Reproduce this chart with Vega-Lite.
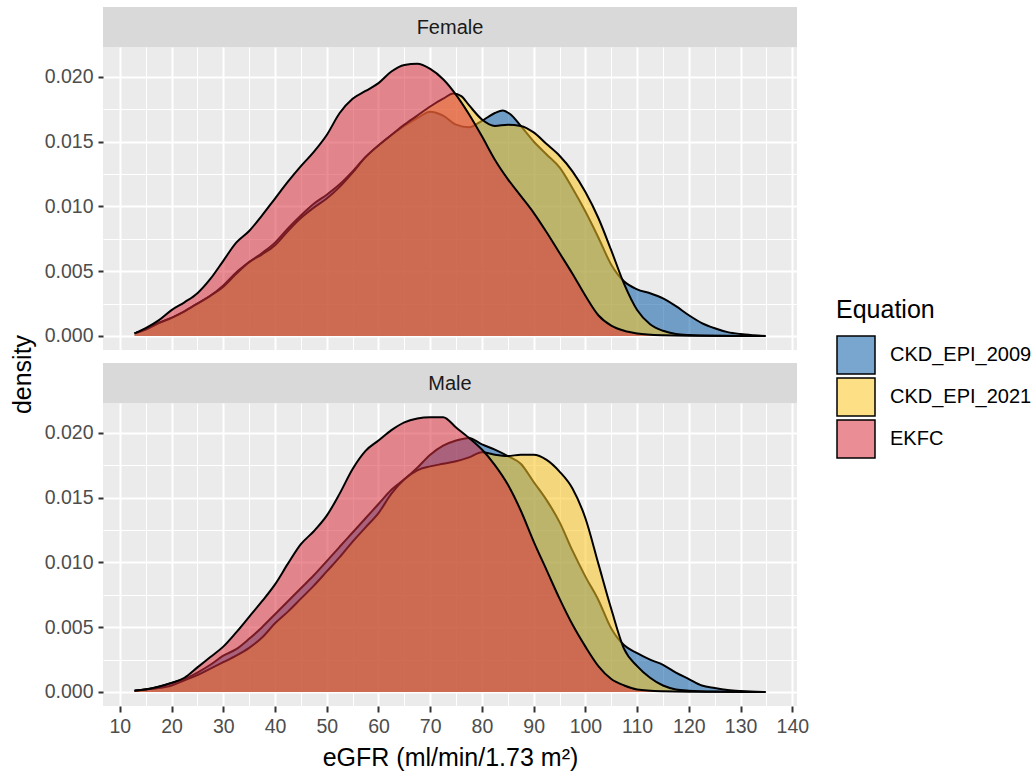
{
  "$schema": "https://vega.github.io/schema/vega-lite/v6.json",
  "padding": {"left": 10, "top": 7, "right": 5, "bottom": 5},
  "background": "white",
  "config": {
    "font": "Liberation Sans",
    "legend": {
      "orient": "none", "legendX": 733, "legendY": 291,
      "titleFontSize": 25, "titleFontWeight": "normal", "titleColor": "black", "titlePadding": 12,
      "labelFontSize": 20, "labelColor": "black", "labelOffset": 14,
      "symbolType": "square", "symbolSize": 1444, "symbolStrokeColor": "black", "symbolStrokeWidth": 1.5,
      "rowPadding": -8
    }
  },
  "datasets": {
    "dens": [
      {"Sex":"Female","Equation":"EKFC","eGFR":12.85,"density":0.0002},
      {"Sex":"Female","Equation":"EKFC","eGFR":15,"density":0.0006},
      {"Sex":"Female","Equation":"EKFC","eGFR":17.5,"density":0.0012},
      {"Sex":"Female","Equation":"EKFC","eGFR":20,"density":0.0020},
      {"Sex":"Female","Equation":"EKFC","eGFR":22.5,"density":0.0026},
      {"Sex":"Female","Equation":"EKFC","eGFR":25,"density":0.0033},
      {"Sex":"Female","Equation":"EKFC","eGFR":27.5,"density":0.0044},
      {"Sex":"Female","Equation":"EKFC","eGFR":30,"density":0.0058},
      {"Sex":"Female","Equation":"EKFC","eGFR":32.5,"density":0.0072},
      {"Sex":"Female","Equation":"EKFC","eGFR":35,"density":0.0081},
      {"Sex":"Female","Equation":"EKFC","eGFR":37.5,"density":0.0093},
      {"Sex":"Female","Equation":"EKFC","eGFR":40,"density":0.0106},
      {"Sex":"Female","Equation":"EKFC","eGFR":42.5,"density":0.0119},
      {"Sex":"Female","Equation":"EKFC","eGFR":45,"density":0.0131},
      {"Sex":"Female","Equation":"EKFC","eGFR":47.5,"density":0.0142},
      {"Sex":"Female","Equation":"EKFC","eGFR":50,"density":0.0155},
      {"Sex":"Female","Equation":"EKFC","eGFR":52.5,"density":0.0172},
      {"Sex":"Female","Equation":"EKFC","eGFR":55,"density":0.0183},
      {"Sex":"Female","Equation":"EKFC","eGFR":57.5,"density":0.0189},
      {"Sex":"Female","Equation":"EKFC","eGFR":60,"density":0.0195},
      {"Sex":"Female","Equation":"EKFC","eGFR":62.5,"density":0.0204},
      {"Sex":"Female","Equation":"EKFC","eGFR":65,"density":0.0209},
      {"Sex":"Female","Equation":"EKFC","eGFR":67.5,"density":0.0210},
      {"Sex":"Female","Equation":"EKFC","eGFR":70,"density":0.0206},
      {"Sex":"Female","Equation":"EKFC","eGFR":72.5,"density":0.0198},
      {"Sex":"Female","Equation":"EKFC","eGFR":75,"density":0.0186},
      {"Sex":"Female","Equation":"EKFC","eGFR":77.5,"density":0.0171},
      {"Sex":"Female","Equation":"EKFC","eGFR":80,"density":0.0154},
      {"Sex":"Female","Equation":"EKFC","eGFR":82.5,"density":0.0136},
      {"Sex":"Female","Equation":"EKFC","eGFR":85,"density":0.0121},
      {"Sex":"Female","Equation":"EKFC","eGFR":87.5,"density":0.0108},
      {"Sex":"Female","Equation":"EKFC","eGFR":90,"density":0.0095},
      {"Sex":"Female","Equation":"EKFC","eGFR":92.5,"density":0.0080},
      {"Sex":"Female","Equation":"EKFC","eGFR":95,"density":0.0064},
      {"Sex":"Female","Equation":"EKFC","eGFR":97.5,"density":0.0048},
      {"Sex":"Female","Equation":"EKFC","eGFR":100,"density":0.0031},
      {"Sex":"Female","Equation":"EKFC","eGFR":102.5,"density":0.0016},
      {"Sex":"Female","Equation":"EKFC","eGFR":105,"density":0.0008},
      {"Sex":"Female","Equation":"EKFC","eGFR":107.5,"density":0.0004},
      {"Sex":"Female","Equation":"EKFC","eGFR":110,"density":0.0002},
      {"Sex":"Female","Equation":"EKFC","eGFR":115,"density":0.00005},
      {"Sex":"Female","Equation":"EKFC","eGFR":120,"density":0.00001},
      {"Sex":"Female","Equation":"EKFC","eGFR":134.8,"density":0},

      {"Sex":"Female","Equation":"CKD_EPI_2021","eGFR":12.85,"density":0.0002},
      {"Sex":"Female","Equation":"CKD_EPI_2021","eGFR":15,"density":0.0005},
      {"Sex":"Female","Equation":"CKD_EPI_2021","eGFR":17.5,"density":0.0010},
      {"Sex":"Female","Equation":"CKD_EPI_2021","eGFR":20,"density":0.0014},
      {"Sex":"Female","Equation":"CKD_EPI_2021","eGFR":22.5,"density":0.0019},
      {"Sex":"Female","Equation":"CKD_EPI_2021","eGFR":25,"density":0.0025},
      {"Sex":"Female","Equation":"CKD_EPI_2021","eGFR":27.5,"density":0.0031},
      {"Sex":"Female","Equation":"CKD_EPI_2021","eGFR":30,"density":0.0038},
      {"Sex":"Female","Equation":"CKD_EPI_2021","eGFR":32.5,"density":0.0048},
      {"Sex":"Female","Equation":"CKD_EPI_2021","eGFR":35,"density":0.0057},
      {"Sex":"Female","Equation":"CKD_EPI_2021","eGFR":37.5,"density":0.0063},
      {"Sex":"Female","Equation":"CKD_EPI_2021","eGFR":40,"density":0.0070},
      {"Sex":"Female","Equation":"CKD_EPI_2021","eGFR":42.5,"density":0.0081},
      {"Sex":"Female","Equation":"CKD_EPI_2021","eGFR":45,"density":0.0091},
      {"Sex":"Female","Equation":"CKD_EPI_2021","eGFR":47.5,"density":0.0099},
      {"Sex":"Female","Equation":"CKD_EPI_2021","eGFR":50,"density":0.0106},
      {"Sex":"Female","Equation":"CKD_EPI_2021","eGFR":52.5,"density":0.0115},
      {"Sex":"Female","Equation":"CKD_EPI_2021","eGFR":55,"density":0.0126},
      {"Sex":"Female","Equation":"CKD_EPI_2021","eGFR":57.5,"density":0.0138},
      {"Sex":"Female","Equation":"CKD_EPI_2021","eGFR":60,"density":0.0147},
      {"Sex":"Female","Equation":"CKD_EPI_2021","eGFR":62.5,"density":0.0155},
      {"Sex":"Female","Equation":"CKD_EPI_2021","eGFR":65,"density":0.0163},
      {"Sex":"Female","Equation":"CKD_EPI_2021","eGFR":67.5,"density":0.0170},
      {"Sex":"Female","Equation":"CKD_EPI_2021","eGFR":70,"density":0.0177},
      {"Sex":"Female","Equation":"CKD_EPI_2021","eGFR":72.5,"density":0.0183},
      {"Sex":"Female","Equation":"CKD_EPI_2021","eGFR":74.5,"density":0.0187},
      {"Sex":"Female","Equation":"CKD_EPI_2021","eGFR":76,"density":0.0185},
      {"Sex":"Female","Equation":"CKD_EPI_2021","eGFR":77.5,"density":0.0178},
      {"Sex":"Female","Equation":"CKD_EPI_2021","eGFR":80,"density":0.0167},
      {"Sex":"Female","Equation":"CKD_EPI_2021","eGFR":82.5,"density":0.0162},
      {"Sex":"Female","Equation":"CKD_EPI_2021","eGFR":85,"density":0.0163},
      {"Sex":"Female","Equation":"CKD_EPI_2021","eGFR":87.5,"density":0.0162},
      {"Sex":"Female","Equation":"CKD_EPI_2021","eGFR":90,"density":0.0157},
      {"Sex":"Female","Equation":"CKD_EPI_2021","eGFR":92.5,"density":0.0148},
      {"Sex":"Female","Equation":"CKD_EPI_2021","eGFR":95,"density":0.0139},
      {"Sex":"Female","Equation":"CKD_EPI_2021","eGFR":97.5,"density":0.0127},
      {"Sex":"Female","Equation":"CKD_EPI_2021","eGFR":100,"density":0.0111},
      {"Sex":"Female","Equation":"CKD_EPI_2021","eGFR":102.5,"density":0.0091},
      {"Sex":"Female","Equation":"CKD_EPI_2021","eGFR":105,"density":0.0066},
      {"Sex":"Female","Equation":"CKD_EPI_2021","eGFR":107.5,"density":0.0040},
      {"Sex":"Female","Equation":"CKD_EPI_2021","eGFR":110,"density":0.0020},
      {"Sex":"Female","Equation":"CKD_EPI_2021","eGFR":112.5,"density":0.0009},
      {"Sex":"Female","Equation":"CKD_EPI_2021","eGFR":115,"density":0.0004},
      {"Sex":"Female","Equation":"CKD_EPI_2021","eGFR":117.5,"density":0.00015},
      {"Sex":"Female","Equation":"CKD_EPI_2021","eGFR":120,"density":0.00007},
      {"Sex":"Female","Equation":"CKD_EPI_2021","eGFR":125,"density":0.00002},
      {"Sex":"Female","Equation":"CKD_EPI_2021","eGFR":134.8,"density":0},

      {"Sex":"Female","Equation":"CKD_EPI_2009","eGFR":12.85,"density":0.0002},
      {"Sex":"Female","Equation":"CKD_EPI_2009","eGFR":15,"density":0.0005},
      {"Sex":"Female","Equation":"CKD_EPI_2009","eGFR":17.5,"density":0.0010},
      {"Sex":"Female","Equation":"CKD_EPI_2009","eGFR":20,"density":0.0014},
      {"Sex":"Female","Equation":"CKD_EPI_2009","eGFR":22.5,"density":0.0019},
      {"Sex":"Female","Equation":"CKD_EPI_2009","eGFR":25,"density":0.0025},
      {"Sex":"Female","Equation":"CKD_EPI_2009","eGFR":27.5,"density":0.0031},
      {"Sex":"Female","Equation":"CKD_EPI_2009","eGFR":30,"density":0.0039},
      {"Sex":"Female","Equation":"CKD_EPI_2009","eGFR":32.5,"density":0.0049},
      {"Sex":"Female","Equation":"CKD_EPI_2009","eGFR":35,"density":0.0057},
      {"Sex":"Female","Equation":"CKD_EPI_2009","eGFR":37.5,"density":0.0064},
      {"Sex":"Female","Equation":"CKD_EPI_2009","eGFR":40,"density":0.0072},
      {"Sex":"Female","Equation":"CKD_EPI_2009","eGFR":42.5,"density":0.0083},
      {"Sex":"Female","Equation":"CKD_EPI_2009","eGFR":45,"density":0.0093},
      {"Sex":"Female","Equation":"CKD_EPI_2009","eGFR":47.5,"density":0.0102},
      {"Sex":"Female","Equation":"CKD_EPI_2009","eGFR":50,"density":0.0109},
      {"Sex":"Female","Equation":"CKD_EPI_2009","eGFR":52.5,"density":0.0117},
      {"Sex":"Female","Equation":"CKD_EPI_2009","eGFR":55,"density":0.0127},
      {"Sex":"Female","Equation":"CKD_EPI_2009","eGFR":57.5,"density":0.0138},
      {"Sex":"Female","Equation":"CKD_EPI_2009","eGFR":60,"density":0.0147},
      {"Sex":"Female","Equation":"CKD_EPI_2009","eGFR":62.5,"density":0.0155},
      {"Sex":"Female","Equation":"CKD_EPI_2009","eGFR":65,"density":0.0162},
      {"Sex":"Female","Equation":"CKD_EPI_2009","eGFR":67.5,"density":0.0168},
      {"Sex":"Female","Equation":"CKD_EPI_2009","eGFR":70,"density":0.0173},
      {"Sex":"Female","Equation":"CKD_EPI_2009","eGFR":72.5,"density":0.0170},
      {"Sex":"Female","Equation":"CKD_EPI_2009","eGFR":75,"density":0.0163},
      {"Sex":"Female","Equation":"CKD_EPI_2009","eGFR":77.5,"density":0.0161},
      {"Sex":"Female","Equation":"CKD_EPI_2009","eGFR":80,"density":0.0166},
      {"Sex":"Female","Equation":"CKD_EPI_2009","eGFR":82.5,"density":0.0172},
      {"Sex":"Female","Equation":"CKD_EPI_2009","eGFR":84,"density":0.0174},
      {"Sex":"Female","Equation":"CKD_EPI_2009","eGFR":85.5,"density":0.0171},
      {"Sex":"Female","Equation":"CKD_EPI_2009","eGFR":87.5,"density":0.0162},
      {"Sex":"Female","Equation":"CKD_EPI_2009","eGFR":90,"density":0.0150},
      {"Sex":"Female","Equation":"CKD_EPI_2009","eGFR":92.5,"density":0.0140},
      {"Sex":"Female","Equation":"CKD_EPI_2009","eGFR":95,"density":0.0130},
      {"Sex":"Female","Equation":"CKD_EPI_2009","eGFR":97.5,"density":0.0114},
      {"Sex":"Female","Equation":"CKD_EPI_2009","eGFR":100,"density":0.0096},
      {"Sex":"Female","Equation":"CKD_EPI_2009","eGFR":102.5,"density":0.0076},
      {"Sex":"Female","Equation":"CKD_EPI_2009","eGFR":105,"density":0.0055},
      {"Sex":"Female","Equation":"CKD_EPI_2009","eGFR":107.5,"density":0.0042},
      {"Sex":"Female","Equation":"CKD_EPI_2009","eGFR":110,"density":0.0036},
      {"Sex":"Female","Equation":"CKD_EPI_2009","eGFR":112.5,"density":0.0033},
      {"Sex":"Female","Equation":"CKD_EPI_2009","eGFR":115,"density":0.0029},
      {"Sex":"Female","Equation":"CKD_EPI_2009","eGFR":117.5,"density":0.0023},
      {"Sex":"Female","Equation":"CKD_EPI_2009","eGFR":120,"density":0.0016},
      {"Sex":"Female","Equation":"CKD_EPI_2009","eGFR":122.5,"density":0.0010},
      {"Sex":"Female","Equation":"CKD_EPI_2009","eGFR":125,"density":0.0006},
      {"Sex":"Female","Equation":"CKD_EPI_2009","eGFR":127.5,"density":0.0003},
      {"Sex":"Female","Equation":"CKD_EPI_2009","eGFR":130,"density":0.00015},
      {"Sex":"Female","Equation":"CKD_EPI_2009","eGFR":132.5,"density":0.00006},
      {"Sex":"Female","Equation":"CKD_EPI_2009","eGFR":134.8,"density":0},

      {"Sex":"Male","Equation":"EKFC","eGFR":12.85,"density":0.0001},
      {"Sex":"Male","Equation":"EKFC","eGFR":15,"density":0.0002},
      {"Sex":"Male","Equation":"EKFC","eGFR":17.5,"density":0.0004},
      {"Sex":"Male","Equation":"EKFC","eGFR":20,"density":0.0007},
      {"Sex":"Male","Equation":"EKFC","eGFR":22.5,"density":0.0011},
      {"Sex":"Male","Equation":"EKFC","eGFR":25,"density":0.0019},
      {"Sex":"Male","Equation":"EKFC","eGFR":27.5,"density":0.0027},
      {"Sex":"Male","Equation":"EKFC","eGFR":30,"density":0.0035},
      {"Sex":"Male","Equation":"EKFC","eGFR":32.5,"density":0.0046},
      {"Sex":"Male","Equation":"EKFC","eGFR":35,"density":0.0058},
      {"Sex":"Male","Equation":"EKFC","eGFR":37.5,"density":0.0070},
      {"Sex":"Male","Equation":"EKFC","eGFR":40,"density":0.0083},
      {"Sex":"Male","Equation":"EKFC","eGFR":42.5,"density":0.0099},
      {"Sex":"Male","Equation":"EKFC","eGFR":45,"density":0.0114},
      {"Sex":"Male","Equation":"EKFC","eGFR":47.5,"density":0.0124},
      {"Sex":"Male","Equation":"EKFC","eGFR":50,"density":0.0136},
      {"Sex":"Male","Equation":"EKFC","eGFR":52.5,"density":0.0153},
      {"Sex":"Male","Equation":"EKFC","eGFR":55,"density":0.0172},
      {"Sex":"Male","Equation":"EKFC","eGFR":57.5,"density":0.0186},
      {"Sex":"Male","Equation":"EKFC","eGFR":60,"density":0.0194},
      {"Sex":"Male","Equation":"EKFC","eGFR":62.5,"density":0.0202},
      {"Sex":"Male","Equation":"EKFC","eGFR":65,"density":0.0208},
      {"Sex":"Male","Equation":"EKFC","eGFR":67.5,"density":0.0211},
      {"Sex":"Male","Equation":"EKFC","eGFR":70,"density":0.0212},
      {"Sex":"Male","Equation":"EKFC","eGFR":72.5,"density":0.0212},
      {"Sex":"Male","Equation":"EKFC","eGFR":75,"density":0.0204},
      {"Sex":"Male","Equation":"EKFC","eGFR":77.5,"density":0.0196},
      {"Sex":"Male","Equation":"EKFC","eGFR":80,"density":0.0187},
      {"Sex":"Male","Equation":"EKFC","eGFR":82.5,"density":0.0175},
      {"Sex":"Male","Equation":"EKFC","eGFR":85,"density":0.0160},
      {"Sex":"Male","Equation":"EKFC","eGFR":87.5,"density":0.0140},
      {"Sex":"Male","Equation":"EKFC","eGFR":90,"density":0.0116},
      {"Sex":"Male","Equation":"EKFC","eGFR":92.5,"density":0.0094},
      {"Sex":"Male","Equation":"EKFC","eGFR":95,"density":0.0072},
      {"Sex":"Male","Equation":"EKFC","eGFR":97.5,"density":0.0052},
      {"Sex":"Male","Equation":"EKFC","eGFR":100,"density":0.0035},
      {"Sex":"Male","Equation":"EKFC","eGFR":102.5,"density":0.0020},
      {"Sex":"Male","Equation":"EKFC","eGFR":105,"density":0.0010},
      {"Sex":"Male","Equation":"EKFC","eGFR":107.5,"density":0.0005},
      {"Sex":"Male","Equation":"EKFC","eGFR":110,"density":0.0002},
      {"Sex":"Male","Equation":"EKFC","eGFR":115,"density":0.00005},
      {"Sex":"Male","Equation":"EKFC","eGFR":120,"density":0.00001},
      {"Sex":"Male","Equation":"EKFC","eGFR":134.8,"density":0},

      {"Sex":"Male","Equation":"CKD_EPI_2021","eGFR":12.85,"density":0.0001},
      {"Sex":"Male","Equation":"CKD_EPI_2021","eGFR":15,"density":0.0002},
      {"Sex":"Male","Equation":"CKD_EPI_2021","eGFR":17.5,"density":0.0003},
      {"Sex":"Male","Equation":"CKD_EPI_2021","eGFR":20,"density":0.0005},
      {"Sex":"Male","Equation":"CKD_EPI_2021","eGFR":22.5,"density":0.0009},
      {"Sex":"Male","Equation":"CKD_EPI_2021","eGFR":25,"density":0.0013},
      {"Sex":"Male","Equation":"CKD_EPI_2021","eGFR":27.5,"density":0.0018},
      {"Sex":"Male","Equation":"CKD_EPI_2021","eGFR":30,"density":0.0023},
      {"Sex":"Male","Equation":"CKD_EPI_2021","eGFR":32.5,"density":0.0028},
      {"Sex":"Male","Equation":"CKD_EPI_2021","eGFR":35,"density":0.0034},
      {"Sex":"Male","Equation":"CKD_EPI_2021","eGFR":37.5,"density":0.0042},
      {"Sex":"Male","Equation":"CKD_EPI_2021","eGFR":40,"density":0.0053},
      {"Sex":"Male","Equation":"CKD_EPI_2021","eGFR":42.5,"density":0.0062},
      {"Sex":"Male","Equation":"CKD_EPI_2021","eGFR":45,"density":0.0072},
      {"Sex":"Male","Equation":"CKD_EPI_2021","eGFR":47.5,"density":0.0082},
      {"Sex":"Male","Equation":"CKD_EPI_2021","eGFR":50,"density":0.0093},
      {"Sex":"Male","Equation":"CKD_EPI_2021","eGFR":52.5,"density":0.0104},
      {"Sex":"Male","Equation":"CKD_EPI_2021","eGFR":55,"density":0.0116},
      {"Sex":"Male","Equation":"CKD_EPI_2021","eGFR":57.5,"density":0.0127},
      {"Sex":"Male","Equation":"CKD_EPI_2021","eGFR":60,"density":0.0138},
      {"Sex":"Male","Equation":"CKD_EPI_2021","eGFR":62.5,"density":0.0153},
      {"Sex":"Male","Equation":"CKD_EPI_2021","eGFR":65,"density":0.0164},
      {"Sex":"Male","Equation":"CKD_EPI_2021","eGFR":67.5,"density":0.0171},
      {"Sex":"Male","Equation":"CKD_EPI_2021","eGFR":70,"density":0.0174},
      {"Sex":"Male","Equation":"CKD_EPI_2021","eGFR":72.5,"density":0.0176},
      {"Sex":"Male","Equation":"CKD_EPI_2021","eGFR":75,"density":0.0178},
      {"Sex":"Male","Equation":"CKD_EPI_2021","eGFR":77.5,"density":0.0181},
      {"Sex":"Male","Equation":"CKD_EPI_2021","eGFR":80,"density":0.0185},
      {"Sex":"Male","Equation":"CKD_EPI_2021","eGFR":82.5,"density":0.0183},
      {"Sex":"Male","Equation":"CKD_EPI_2021","eGFR":85,"density":0.0182},
      {"Sex":"Male","Equation":"CKD_EPI_2021","eGFR":87.5,"density":0.0183},
      {"Sex":"Male","Equation":"CKD_EPI_2021","eGFR":90,"density":0.0183},
      {"Sex":"Male","Equation":"CKD_EPI_2021","eGFR":92.5,"density":0.0179},
      {"Sex":"Male","Equation":"CKD_EPI_2021","eGFR":95,"density":0.0170},
      {"Sex":"Male","Equation":"CKD_EPI_2021","eGFR":97.5,"density":0.0157},
      {"Sex":"Male","Equation":"CKD_EPI_2021","eGFR":100,"density":0.0134},
      {"Sex":"Male","Equation":"CKD_EPI_2021","eGFR":102.5,"density":0.0099},
      {"Sex":"Male","Equation":"CKD_EPI_2021","eGFR":105,"density":0.0064},
      {"Sex":"Male","Equation":"CKD_EPI_2021","eGFR":107.5,"density":0.0033},
      {"Sex":"Male","Equation":"CKD_EPI_2021","eGFR":110,"density":0.0020},
      {"Sex":"Male","Equation":"CKD_EPI_2021","eGFR":112.5,"density":0.0011},
      {"Sex":"Male","Equation":"CKD_EPI_2021","eGFR":115,"density":0.0005},
      {"Sex":"Male","Equation":"CKD_EPI_2021","eGFR":117.5,"density":0.0002},
      {"Sex":"Male","Equation":"CKD_EPI_2021","eGFR":120,"density":0.0001},
      {"Sex":"Male","Equation":"CKD_EPI_2021","eGFR":125,"density":0.00003},
      {"Sex":"Male","Equation":"CKD_EPI_2021","eGFR":134.8,"density":0},

      {"Sex":"Male","Equation":"CKD_EPI_2009","eGFR":12.85,"density":0.0001},
      {"Sex":"Male","Equation":"CKD_EPI_2009","eGFR":15,"density":0.0002},
      {"Sex":"Male","Equation":"CKD_EPI_2009","eGFR":17.5,"density":0.0004},
      {"Sex":"Male","Equation":"CKD_EPI_2009","eGFR":20,"density":0.0007},
      {"Sex":"Male","Equation":"CKD_EPI_2009","eGFR":22.5,"density":0.0010},
      {"Sex":"Male","Equation":"CKD_EPI_2009","eGFR":25,"density":0.0015},
      {"Sex":"Male","Equation":"CKD_EPI_2009","eGFR":27.5,"density":0.0021},
      {"Sex":"Male","Equation":"CKD_EPI_2009","eGFR":30,"density":0.0028},
      {"Sex":"Male","Equation":"CKD_EPI_2009","eGFR":32.5,"density":0.0033},
      {"Sex":"Male","Equation":"CKD_EPI_2009","eGFR":35,"density":0.0041},
      {"Sex":"Male","Equation":"CKD_EPI_2009","eGFR":37.5,"density":0.0050},
      {"Sex":"Male","Equation":"CKD_EPI_2009","eGFR":40,"density":0.0060},
      {"Sex":"Male","Equation":"CKD_EPI_2009","eGFR":42.5,"density":0.0070},
      {"Sex":"Male","Equation":"CKD_EPI_2009","eGFR":45,"density":0.0080},
      {"Sex":"Male","Equation":"CKD_EPI_2009","eGFR":47.5,"density":0.0090},
      {"Sex":"Male","Equation":"CKD_EPI_2009","eGFR":50,"density":0.0101},
      {"Sex":"Male","Equation":"CKD_EPI_2009","eGFR":52.5,"density":0.0112},
      {"Sex":"Male","Equation":"CKD_EPI_2009","eGFR":55,"density":0.0123},
      {"Sex":"Male","Equation":"CKD_EPI_2009","eGFR":57.5,"density":0.0134},
      {"Sex":"Male","Equation":"CKD_EPI_2009","eGFR":60,"density":0.0145},
      {"Sex":"Male","Equation":"CKD_EPI_2009","eGFR":62.5,"density":0.0156},
      {"Sex":"Male","Equation":"CKD_EPI_2009","eGFR":65,"density":0.0164},
      {"Sex":"Male","Equation":"CKD_EPI_2009","eGFR":67.5,"density":0.0173},
      {"Sex":"Male","Equation":"CKD_EPI_2009","eGFR":70,"density":0.0183},
      {"Sex":"Male","Equation":"CKD_EPI_2009","eGFR":72.5,"density":0.0190},
      {"Sex":"Male","Equation":"CKD_EPI_2009","eGFR":75,"density":0.0194},
      {"Sex":"Male","Equation":"CKD_EPI_2009","eGFR":77.5,"density":0.0196},
      {"Sex":"Male","Equation":"CKD_EPI_2009","eGFR":80,"density":0.0191},
      {"Sex":"Male","Equation":"CKD_EPI_2009","eGFR":82.5,"density":0.0187},
      {"Sex":"Male","Equation":"CKD_EPI_2009","eGFR":85,"density":0.0182},
      {"Sex":"Male","Equation":"CKD_EPI_2009","eGFR":87.5,"density":0.0176},
      {"Sex":"Male","Equation":"CKD_EPI_2009","eGFR":90,"density":0.0162},
      {"Sex":"Male","Equation":"CKD_EPI_2009","eGFR":92.5,"density":0.0148},
      {"Sex":"Male","Equation":"CKD_EPI_2009","eGFR":95,"density":0.0131},
      {"Sex":"Male","Equation":"CKD_EPI_2009","eGFR":97.5,"density":0.0109},
      {"Sex":"Male","Equation":"CKD_EPI_2009","eGFR":100,"density":0.0089},
      {"Sex":"Male","Equation":"CKD_EPI_2009","eGFR":102.5,"density":0.0071},
      {"Sex":"Male","Equation":"CKD_EPI_2009","eGFR":105,"density":0.0049},
      {"Sex":"Male","Equation":"CKD_EPI_2009","eGFR":107.5,"density":0.0036},
      {"Sex":"Male","Equation":"CKD_EPI_2009","eGFR":110,"density":0.0030},
      {"Sex":"Male","Equation":"CKD_EPI_2009","eGFR":112.5,"density":0.0025},
      {"Sex":"Male","Equation":"CKD_EPI_2009","eGFR":115,"density":0.0021},
      {"Sex":"Male","Equation":"CKD_EPI_2009","eGFR":117.5,"density":0.0015},
      {"Sex":"Male","Equation":"CKD_EPI_2009","eGFR":120,"density":0.0010},
      {"Sex":"Male","Equation":"CKD_EPI_2009","eGFR":122.5,"density":0.0005},
      {"Sex":"Male","Equation":"CKD_EPI_2009","eGFR":125,"density":0.0003},
      {"Sex":"Male","Equation":"CKD_EPI_2009","eGFR":127.5,"density":0.00015},
      {"Sex":"Male","Equation":"CKD_EPI_2009","eGFR":130,"density":0.00007},
      {"Sex":"Male","Equation":"CKD_EPI_2009","eGFR":134.8,"density":0}
    ]
  },
  "spacing": 0,
  "bounds": "flush",
  "vconcat": [
    {
      "width": 694, "height": 40,
      "data": {"values": [{"Sex": "Female"}]},
      "view": {"fill": "#D9D9D9", "stroke": null},
      "mark": {"type": "text", "fontSize": 20, "color": "#1A1A1A", "dy": 1},
      "encoding": {"text": {"field": "Sex", "type": "nominal"}}
    },
    {
      "width": 694, "height": 303,
      "data": {"name": "dens"},
      "transform": [{"filter": "datum.Sex === 'Female'"}],
      "view": {"fill": "#EBEBEB", "stroke": null},
      "encoding": {
        "x": {"field": "eGFR", "type": "quantitative",
          "scale": {"domain": [6.75, 140.9], "nice": false, "zero": false},
          "axis": {"values": [10,15,20,25,30,35,40,45,50,55,60,65,70,75,80,85,90,95,100,105,110,115,120,125,130,135,140],
            "labels": false, "ticks": false, "domain": false, "title": null, "grid": true, "gridColor": "white",
            "gridWidth": {"condition": {"test": "datum.value % 10 === 0", "value": 2}, "value": 1}}},
        "y": {"field": "density", "type": "quantitative",
          "scale": {"domain": [-0.00108, 0.02229], "nice": false, "zero": false},
          "axis": {"values": [0,0.0025,0.005,0.0075,0.01,0.0125,0.015,0.0175,0.02],
            "format": ".3f", "labelExpr": "abs(datum.value*200 - round(datum.value*200)) < 0.001 ? datum.label : ''",
            "labelOverlap": false, "labelFlush": false, "labelFontSize": 19.5, "labelColor": "#4D4D4D", "labelPadding": 5,
            "tickSize": 5, "tickWidth": 2, "tickColor": "#333333",
            "tickOpacity": {"condition": {"test": "abs(datum.value*200 - round(datum.value*200)) < 0.001", "value": 1}, "value": 0},
            "domain": false, "grid": true, "gridColor": "white",
            "gridWidth": {"condition": {"test": "abs(datum.value*200 - round(datum.value*200)) < 0.001", "value": 2}, "value": 1},
            "title": "density", "titleFontSize": 25, "titleFontWeight": "normal", "titleColor": "black", "titlePadding": 9, "titleY": 327}}
      },
      "layer": [
        {"transform": [{"filter": "datum.Equation === 'CKD_EPI_2009'"}],
         "mark": {"type": "area", "interpolate": "monotone", "fillOpacity": 0.55},
         "encoding": {"y2": {"datum": 0}, "color": {"field": "Equation", "type": "nominal", "scale": {"domain": ["CKD_EPI_2009","CKD_EPI_2021","EKFC"], "range": ["#0A5DA8","#FBC721","#DB303E"]},
           "legend": {"symbolStrokeColor": "black", "encode": {"symbols": {"update": {"fillOpacity": {"value": 0.55}, "opacity": {"value": 1}, "strokeOpacity": {"value": 1}, "stroke": {"value": "black"}, "strokeWidth": {"value": 1.5}}}}}}}},
        {"transform": [{"filter": "datum.Equation === 'CKD_EPI_2009'"}],
         "mark": {"type": "line", "interpolate": "monotone", "color": "black", "strokeWidth": 2}, "encoding": {}},
        {"transform": [{"filter": "datum.Equation === 'CKD_EPI_2021'"}],
         "mark": {"type": "area", "interpolate": "monotone", "fillOpacity": 0.55},
         "encoding": {"y2": {"datum": 0}, "color": {"field": "Equation", "type": "nominal"}}},
        {"transform": [{"filter": "datum.Equation === 'CKD_EPI_2021'"}],
         "mark": {"type": "line", "interpolate": "monotone", "color": "black", "strokeWidth": 2}, "encoding": {}},
        {"transform": [{"filter": "datum.Equation === 'EKFC'"}],
         "mark": {"type": "area", "interpolate": "monotone", "fillOpacity": 0.55},
         "encoding": {"y2": {"datum": 0}, "color": {"field": "Equation", "type": "nominal"}}},
        {"transform": [{"filter": "datum.Equation === 'EKFC'"}],
         "mark": {"type": "line", "interpolate": "monotone", "color": "black", "strokeWidth": 2}, "encoding": {}}
      ]
    },
    {
      "width": 694, "height": 13,
      "data": {"values": [{"Sex": ""}]},
      "view": {"fill": null, "stroke": null},
      "mark": {"type": "text"},
      "encoding": {"text": {"field": "Sex", "type": "nominal"}}
    },
    {
      "width": 694, "height": 40,
      "data": {"values": [{"Sex": "Male"}]},
      "view": {"fill": "#D9D9D9", "stroke": null},
      "mark": {"type": "text", "fontSize": 20, "color": "#1A1A1A", "dy": 1},
      "encoding": {"text": {"field": "Sex", "type": "nominal"}}
    },
    {
      "width": 694, "height": 303,
      "data": {"name": "dens"},
      "transform": [{"filter": "datum.Sex === 'Male'"}],
      "view": {"fill": "#EBEBEB", "stroke": null},
      "encoding": {
        "x": {"field": "eGFR", "type": "quantitative",
          "scale": {"domain": [6.75, 140.9], "nice": false, "zero": false},
          "axis": {"values": [10,15,20,25,30,35,40,45,50,55,60,65,70,75,80,85,90,95,100,105,110,115,120,125,130,135,140],
            "labelExpr": "datum.value % 10 === 0 ? datum.label : ''", "labelOverlap": false, "labelFlush": false,
            "labelFontSize": 19.5, "labelColor": "#4D4D4D", "labelPadding": 5,
            "tickSize": 6, "tickWidth": 2, "tickColor": "#333333",
            "tickOpacity": {"condition": {"test": "datum.value % 10 === 0", "value": 1}, "value": 0},
            "domain": false, "grid": true, "gridColor": "white",
            "gridWidth": {"condition": {"test": "datum.value % 10 === 0", "value": 2}, "value": 1},
            "title": "eGFR (ml/min/1.73 m²)", "titleFontSize": 25, "titleFontWeight": "normal", "titleColor": "black", "titlePadding": 10}},
        "y": {"field": "density", "type": "quantitative",
          "scale": {"domain": [-0.00108, 0.02229], "nice": false, "zero": false},
          "axis": {"values": [0,0.0025,0.005,0.0075,0.01,0.0125,0.015,0.0175,0.02],
            "format": ".3f", "labelExpr": "abs(datum.value*200 - round(datum.value*200)) < 0.001 ? datum.label : ''",
            "labelOverlap": false, "labelFlush": false, "labelFontSize": 19.5, "labelColor": "#4D4D4D", "labelPadding": 5,
            "tickSize": 5, "tickWidth": 2, "tickColor": "#333333",
            "tickOpacity": {"condition": {"test": "abs(datum.value*200 - round(datum.value*200)) < 0.001", "value": 1}, "value": 0},
            "domain": false, "grid": true, "gridColor": "white",
            "gridWidth": {"condition": {"test": "abs(datum.value*200 - round(datum.value*200)) < 0.001", "value": 2}, "value": 1},
            "title": null}}
      },
      "layer": [
        {"transform": [{"filter": "datum.Equation === 'CKD_EPI_2009'"}],
         "mark": {"type": "area", "interpolate": "monotone", "fillOpacity": 0.55},
         "encoding": {"y2": {"datum": 0}, "color": {"field": "Equation", "type": "nominal"}}},
        {"transform": [{"filter": "datum.Equation === 'CKD_EPI_2009'"}],
         "mark": {"type": "line", "interpolate": "monotone", "color": "black", "strokeWidth": 2}, "encoding": {}},
        {"transform": [{"filter": "datum.Equation === 'CKD_EPI_2021'"}],
         "mark": {"type": "area", "interpolate": "monotone", "fillOpacity": 0.55},
         "encoding": {"y2": {"datum": 0}, "color": {"field": "Equation", "type": "nominal"}}},
        {"transform": [{"filter": "datum.Equation === 'CKD_EPI_2021'"}],
         "mark": {"type": "line", "interpolate": "monotone", "color": "black", "strokeWidth": 2}, "encoding": {}},
        {"transform": [{"filter": "datum.Equation === 'EKFC'"}],
         "mark": {"type": "area", "interpolate": "monotone", "fillOpacity": 0.55},
         "encoding": {"y2": {"datum": 0}, "color": {"field": "Equation", "type": "nominal"}}},
        {"transform": [{"filter": "datum.Equation === 'EKFC'"}],
         "mark": {"type": "line", "interpolate": "monotone", "color": "black", "strokeWidth": 2}, "encoding": {}}
      ]
    }
  ]
}
